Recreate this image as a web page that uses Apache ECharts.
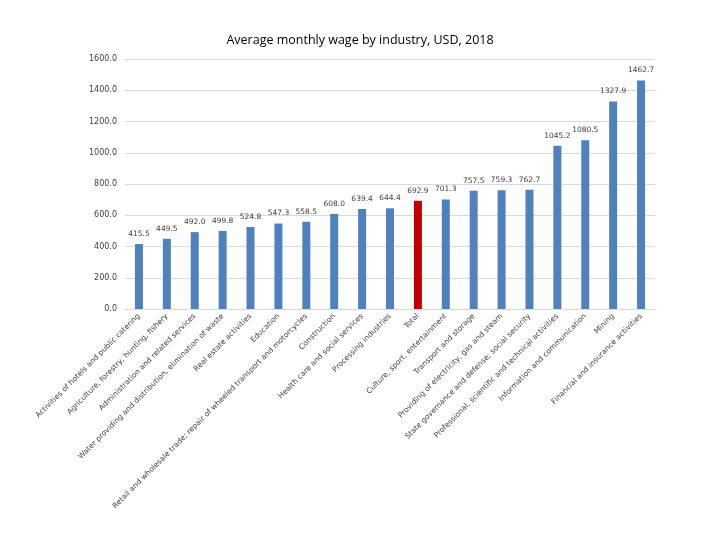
<!DOCTYPE html>
<html><head><meta charset="utf-8">
<script src="https://cdn.jsdelivr.net/npm/echarts@6/dist/echarts.min.js"></script>
<style>html,body{margin:0;padding:0;background:#fff}#c{width:720px;height:540px}</style>
</head><body><div id="c"></div>
<script>
var categories = [
  "Activities of hotels and public catering",
  "Agriculture, forestry, hunting, fishery",
  "Administration and related services",
  "Water providing and distribution, elimination of waste",
  "Real estate activities",
  "Education",
  "Retail and wholesale trade; repair of wheeled transport and motorcycles",
  "Construction",
  "Health care and social services",
  "Processing industries",
  "Total",
  "Culture, sport, entertainment",
  "Transport and storage",
  "Providing of electricity, gas and steam",
  "State governance and defense; social security",
  "Professional, scientific and technical activities",
  "Information and communication",
  "Mining",
  "Financial and insurance activities"
];
var wages = [415.5, 449.5, 492.0, 499.8, 524.8, 547.3, 558.5, 608.0, 639.4, 644.4, 692.9, 701.3, 757.5, 759.3, 762.7, 1045.2, 1080.5, 1327.9, 1462.7];
var highlightCategory = "Total";
var title = "Average monthly wage by industry, USD, 2018";

var chart = echarts.init(document.getElementById('c'));
chart.setOption({
  animation: false,
  title: {text: title, left: 'center', top: 29, textStyle: {fontFamily: 'Open Sans', fontSize: 12.5, fontWeight: 'normal', color: '#000'}},
  grid: {left: 125, right: 65, top: 59, bottom: 231, containLabel: false},
  xAxis: {
    type: 'category', data: categories,
    axisLine: {lineStyle: {color: '#d9d9d9'}},
    axisTick: {show: false},
    axisLabel: {rotate: 45, interval: 0, fontSize: 7.5, color: '#404040', fontFamily: 'DejaVu Sans', margin: 6}
  },
  yAxis: {
    type: 'value', min: 0, max: 1600, interval: 200,
    axisLine: {show: false}, axisTick: {show: false},
    splitLine: {lineStyle: {color: '#d9d9d9'}},
    axisLabel: {fontSize: 8, color: '#404040', fontFamily: 'DejaVu Sans', margin: 8, formatter: function(v){return v.toFixed(1);}}
  },
  series: [{
    type: 'bar', barWidth: 8,
    data: wages.map(function(v, i){
      return {value: v, itemStyle: {color: categories[i] === highlightCategory ? '#C00000' : '#4F81BD'}};
    }),
    label: {show: true, position: 'top', distance: 6, fontSize: 7.5, color: '#404040', fontFamily: 'DejaVu Sans', formatter: function(p){return p.value.toFixed(1);}}
  }]
});
</script></body></html>
